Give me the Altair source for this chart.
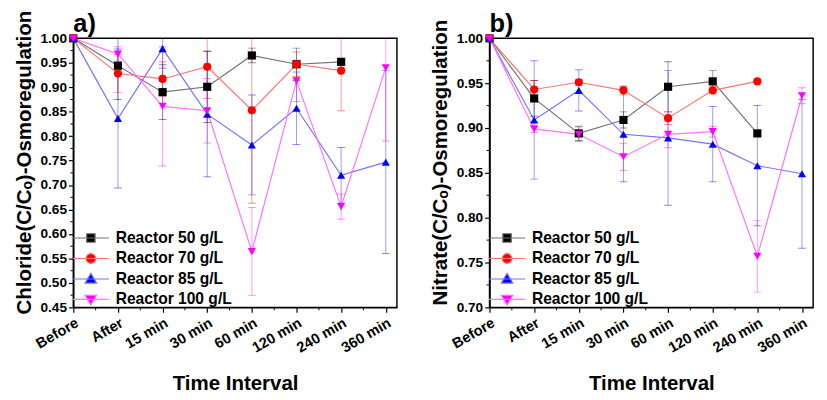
import altair as alt
import pandas as pd

F = "Liberation Sans"

labels = ["Before", "After", "15 min", "30 min", "60 min", "120 min", "240 min", "360 min"]
series = ["Reactor 50 g/L", "Reactor 70 g/L", "Reactor 85 g/L", "Reactor 100 g/L"]
colors = ["#000000", "#ff0000", "#0000ff", "#ff00ff"]
line_colors = ["#737373", "#ff7373", "#7373ff", "#ff73ff"]
shapes = ["square", "circle", "triangle-up", "triangle-down"]
# legend symbols: a horizontal line with the marker drawn over it
legend_shapes = [
    "M-1,0H1M-0.235,-0.235H0.235V0.235H-0.235Z",
    "M-1,0H1M-0.27,0A0.27,0.27 0 1,0 0.27,0A0.27,0.27 0 1,0 -0.27,0Z",
    "M-1,0H1M0,-0.31L0.32,0.23L-0.32,0.23Z",
    "M-1,0H1M0,0.31L0.32,-0.23L-0.32,-0.23Z",
]

# Panel a) Chloride
cl_50 = [1.00, 0.944, 0.890, 0.901, 0.965, 0.947, 0.952, None]
cl_50_err = [0, 0.069, 0.056, 0.073, 0.015, 0.033, 0.0, None]
cl_70 = [1.00, 0.928, 0.917, 0.942, 0.853, 0.947, 0.934, None]
cl_70_err = [0, 0.039, 0.035, 0.065, 0.190, 0.025, 0.082, None]
cl_85 = [1.00, 0.836, 0.979, 0.845, 0.782, 0.857, 0.720, 0.747]
cl_85_err = [0, 0.142, 0.040, 0.128, 0.102, 0.074, 0.057, 0.187]
cl_100 = [1.00, 0.968, 0.861, 0.852, 0.564, 0.913, 0.656, 0.940]
cl_100_err = [0, 0.015, 0.122, 0.066, 0.090, 0.042, 0.026, 0.150]

# Panel b) Nitrate
no_50 = [1.00, 0.933, 0.894, 0.909, 0.946, 0.952, 0.894, None]
no_50_err = [0, 0.020, 0.008, 0.009, 0.028, 0.012, 0.0, None]
no_70 = [1.00, 0.943, 0.951, 0.942, 0.911, 0.942, 0.952, None]
no_70_err = [0, 0.010, 0.003, 0.005, 0.007, 0.004, 0.0, None]
no_85 = [1.00, 0.909, 0.942, 0.893, 0.889, 0.882, 0.858, 0.849]
no_85_err = [0, 0.066, 0.023, 0.053, 0.075, 0.042, 0.067, 0.083]
no_100 = [1.00, 0.899, 0.893, 0.868, 0.893, 0.896, 0.757, 0.936]
no_100_err = [0, 0.004, 0.008, 0.015, 0.015, 0.006, 0.040, 0.009]

cl_ticks = [0.45, 0.50, 0.55, 0.60, 0.65, 0.70, 0.75, 0.80, 0.85, 0.90, 0.95, 1.00]
no_ticks = [0.70, 0.75, 0.80, 0.85, 0.90, 0.95, 1.00]

W, H = 332, 276
LABEL_EXPR = "[" + ",".join("'%s'" % l for l in labels) + "][datum.value]"

LEG_X = -1.5
LEG_Y = 195.5


def make_df(vals_list, errs_list):
    rows = []
    for s, c, lc, sh, vals, errs in zip(series, colors, line_colors, shapes,
                                        vals_list, errs_list):
        for i, (v, e) in enumerate(zip(vals, errs)):
            if v is None:
                continue
            rows.append(dict(idx=i, Series=s, col=c, lcol=lc, shp=sh, value=v,
                             lo=v - e, hi=v + e, err=e))
    return pd.DataFrame(rows)


def panel(df, ytitle, ydom, ymajor):
    xscale = alt.Scale(domain=[0, 7.25], nice=False, zero=False)
    xaxis = alt.Axis(values=list(range(len(labels))), labelExpr=LABEL_EXPR,
                     labelAngle=-30, labelAlign="right", labelBaseline="top",
                     labelPadding=3, labelOverlap=False, labelBound=False,
                     title="Time Interval", titlePadding=18, labelFontSize=15)
    yscale = alt.Scale(domain=ydom, nice=False, zero=False)
    yaxis = alt.Axis(values=ymajor, format=".2f", title=ytitle, titlePadding=6,
                     labelPadding=2, titleY=127, titleFontSize=21)

    def X(f="idx:Q"):
        return alt.X(f, scale=xscale, axis=xaxis)

    def Y(f):
        return alt.Y(f, scale=yscale, axis=yaxis)

    base = alt.Chart(df)

    lines = base.mark_line(strokeWidth=1.2).encode(
        x=X(), y=Y("value:Q"), stroke=alt.Stroke("lcol:N", scale=None))

    eb = base.transform_filter("datum.err > 0")
    ecol = alt.Color("col:N", scale=None)
    rules = eb.mark_rule(strokeWidth=1, opacity=0.4, clip=True).encode(
        x=X(), y=Y("lo:Q"), y2="hi:Q", color=ecol)
    cap_lo = eb.mark_tick(orient="horizontal", size=8, thickness=1, opacity=0.45,
                          clip=True).encode(x=X(), y=Y("lo:Q"), color=ecol)
    cap_hi = eb.mark_tick(orient="horizontal", size=8, thickness=1, opacity=0.45,
                          clip=True).encode(x=X(), y=Y("hi:Q"), color=ecol)

    pts = base.mark_point(filled=True, opacity=1, size=70).encode(
        x=X(), y=Y("value:Q"),
        color=alt.Color("col:N", scale=None),
        shape=alt.Shape("shp:N", scale=None),
    )

    # legend only (no marks drawn: the legend comes from the explicit domains)
    leg = alt.Legend(orient="none", legendX=LEG_X, legendY=LEG_Y, title=None,
                     symbolSize=1369, symbolStrokeWidth=1.2, symbolOpacity=1,
                     clipHeight=18.7, rowPadding=2, padding=0, labelOffset=6,
                     labelFont=F, labelFontWeight="bold", labelFontSize=16,
                     labelColor="black")
    leg_pts = base.transform_filter("false").mark_point(filled=True, opacity=1).encode(
        x=X(), y=Y("value:Q"),
        color=alt.Color("Series:N", scale=alt.Scale(domain=series, range=colors), legend=leg),
        stroke=alt.Stroke("Series:N", scale=alt.Scale(domain=series, range=line_colors),
                          legend=leg),
        shape=alt.Shape("Series:N", scale=alt.Scale(domain=series, range=legend_shapes),
                        legend=leg),
    )

    # minor ticks
    ymin = pd.DataFrame({"m": [(a + b) / 2 for a, b in zip(ymajor[:-1], ymajor[1:])]})
    xmin = pd.DataFrame({"k": [i + 0.5 for i in range(len(labels) - 1)]})
    yminor = alt.Chart(ymin).mark_rule(color="black", strokeWidth=1).encode(
        y=Y("m:Q"), x=alt.value(0), x2=alt.value(-3))
    xminor = alt.Chart(xmin).mark_rule(color="black", strokeWidth=1).encode(
        x=alt.X("k:Q", scale=xscale, axis=xaxis), y=alt.value(H), y2=alt.value(H + 3))

    return alt.layer(lines, rules, cap_lo, cap_hi, pts, leg_pts, yminor, xminor)


def tag_layer(tag):
    return alt.Chart(pd.DataFrame({"t": [tag]})).mark_text(
        font=F, fontWeight="bold", fontSize=26, align="left", baseline="top",
        color="black").encode(text="t:N", x=alt.value(0), y=alt.value(-27))


da = make_df([cl_50, cl_70, cl_85, cl_100], [cl_50_err, cl_70_err, cl_85_err, cl_100_err])
db = make_df([no_50, no_70, no_85, no_100], [no_50_err, no_70_err, no_85_err, no_100_err])

pa = alt.layer(panel(da, "Chloride(C/C\u2092)-Osmoregulation", [0.45, 1.0], cl_ticks),
               tag_layer("a)")).properties(width=W, height=H)
pb = alt.layer(panel(db, "Nitrate(C/C\u2092)-Osmoregulation", [0.70, 1.0], no_ticks),
               tag_layer("b)")).properties(width=W, height=H)

chart = alt.hconcat(pa, pb, spacing=32).resolve_scale(
    x="independent", y="independent", color="independent",
    shape="independent", stroke="independent"
).resolve_legend(
    color="independent", shape="independent", stroke="independent"
).properties(
    padding={"left": 5, "top": -4, "right": 5, "bottom": 5}
).configure_axis(
    labelFont=F, labelFontWeight="bold", labelFontSize=14, labelColor="black",
    titleFont=F, titleFontWeight="bold", titleFontSize=21, titleColor="black",
    domainColor="black", domainWidth=1.5, tickColor="black", tickWidth=1.2,
    tickSize=5, grid=False,
).configure_view(stroke="black", strokeWidth=1.5)

chart.save("out.html", embed_options={"renderer": "svg", "actions": False})
